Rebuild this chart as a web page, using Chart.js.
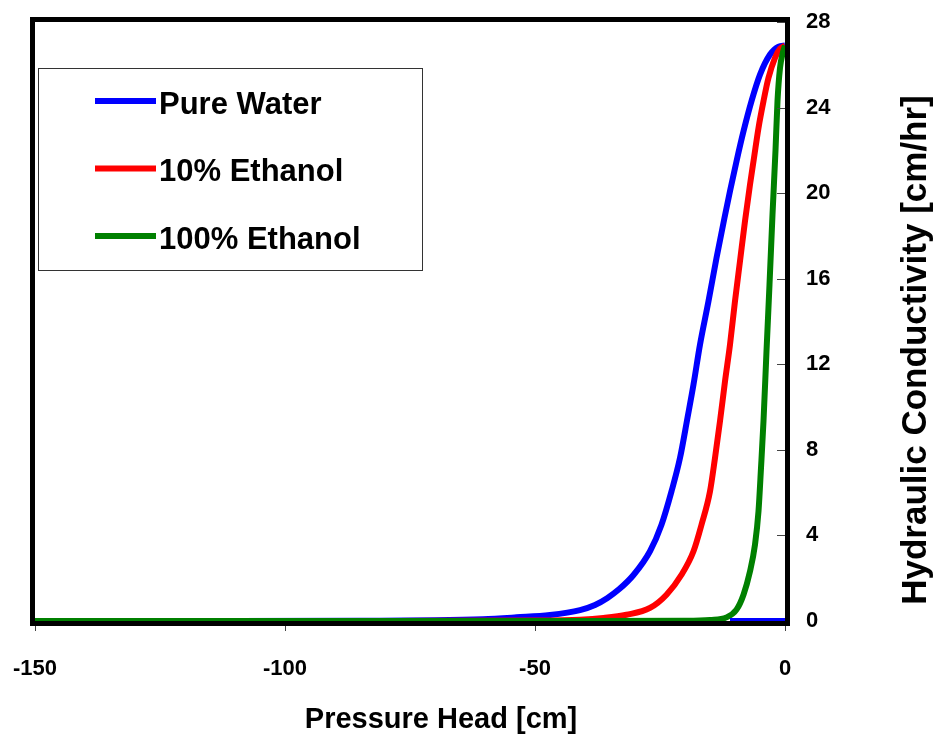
<!DOCTYPE html>
<html>
<head>
<meta charset="utf-8">
<script src="https://cdn.jsdelivr.net/npm/chart.js@4/dist/chart.umd.min.js"></script>
<style>
  html, body { margin: 0; padding: 0; background: #fff; }
  #wrap { width: 937px; height: 744px; }
</style>
</head>
<body>
<div id="wrap"><canvas id="c" width="937" height="744"></canvas></div>
<script>
// Hydraulic conductivity vs pressure head
const waterHead = [-150, -110, -85, -70, -60.4, -53.7, -47, -41, -38, -35.5, -33.2, -30.3, -27, -24.7, -22.7, -21, -19.5, -18.3, -17, -15.3, -13.7, -12.1, -11, -9.7, -8.3, -6.7, -5, -3, -1.3, 0];
const waterK = [0, 0.005, 0.015, 0.03, 0.08, 0.17, 0.28, 0.51, 0.75, 1.08, 1.48, 2.15, 3.26, 4.5, 6.06, 7.62, 9.5, 11.05, 12.92, 14.95, 16.97, 18.85, 20.09, 21.49, 22.89, 24.3, 25.54, 26.48, 26.85, 26.9];
// short blue stretch left on the zero line near the right edge
const waterBaseHead = [-11, 0];
const waterBaseK = [0, 0];

const eth10Head = [-150, -80, -50, -41, -36.3, -31.7, -27, -23.7, -20.7, -18.3, -16.7, -15, -14, -13, -12, -11, -10, -9, -8, -7, -6.2, -5.3, -4.3, -3.3, -2, -1, 0];
const eth10K = [0, 0.002, 0.02, 0.06, 0.14, 0.29, 0.61, 1.23, 2.16, 3.26, 4.5, 6.06, 7.62, 9.34, 11.2, 12.92, 14.95, 16.82, 18.69, 20.4, 21.65, 23.05, 24.3, 25.39, 26.32, 26.75, 26.9];

const eth100Head = [-150, -40, -20, -15, -11.7, -9.7, -8.3, -7, -6, -5.3, -4.8, -4.3, -3.7, -3.1, -2.5, -1.9, -1.5, -1, -0.5, 0];
const eth100K = [0, 0, 0.01, 0.05, 0.17, 0.53, 1.23, 2.32, 3.57, 5.13, 7.15, 9.34, 12.61, 15.72, 19.0, 22.0, 24.3, 25.85, 26.5, 26.9];

const xTicks = [-150, -100, -50, 0];
const yTicks = [0, 4, 8, 12, 16, 20, 24, 28];

const BLUE = '#0000FF';
const RED = '#FF0000';
const GREEN = '#008000';
const FONT = "'Liberation Sans', Arial, Helvetica, sans-serif";

function pts(xs, ys) { return xs.map((x, i) => ({ x, y: ys[i] })); }

function series(label, xs, ys, color, order) {
  return {
    label,
    data: pts(xs, ys),
    borderColor: color,
    backgroundColor: color,
    borderWidth: 6,
    showLine: true,
    pointRadius: 0,
    cubicInterpolationMode: 'monotone',
    order
  };
}

const legendItems = [
  { label: 'Pure Water', color: BLUE },
  { label: '10% Ethanol', color: RED },
  { label: '100% Ethanol', color: GREEN }
];

function noPad(s) {
  s.paddingLeft = 0; s.paddingRight = 0; s.paddingTop = 0; s.paddingBottom = 0;
}

const frame = {
  id: 'frame',
  beforeDraw(chart) {
    const c = chart.ctx;
    c.save();
    c.fillStyle = '#fff';
    c.fillRect(0, 0, chart.width, chart.height);
    c.restore();
  },
  afterDraw(chart) {
    const c = chart.ctx;
    const a = chart.chartArea;
    const ys = chart.scales.y;
    c.save();
    // inward ticks on the right axis
    c.strokeStyle = '#444';
    c.lineWidth = 1;
    yTicks.forEach(v => {
      const py = Math.round(ys.getPixelForValue(v)) + 0.5;
      c.beginPath();
      c.moveTo(a.right - 8, py);
      c.lineTo(a.right, py);
      c.stroke();
    });
    // heavy plot frame, drawn outside the area
    c.strokeStyle = '#000';
    c.lineWidth = 5;
    c.strokeRect(a.left - 2.5, a.top - 2.5, a.right - a.left + 5, a.bottom - a.top + 5);

    // legend box
    c.lineWidth = 1;
    c.strokeStyle = '#333';
    c.fillStyle = '#fff';
    c.fillRect(38.5, 68.5, 384, 202);
    c.strokeRect(38.5, 68.5, 384, 202);
    c.font = 'bold 31px ' + FONT;
    c.textBaseline = 'middle';
    c.textAlign = 'left';
    legendItems.forEach((it, i) => {
      const y = 101 + i * 67.5;
      c.strokeStyle = it.color;
      c.lineWidth = 6;
      c.beginPath();
      c.moveTo(95, y);
      c.lineTo(156, y);
      c.stroke();
      c.fillStyle = '#000';
      c.fillText(it.label, 159, y + 4);
    });

    // axis titles
    c.fillStyle = '#000';
    c.textAlign = 'center';
    c.textBaseline = 'alphabetic';
    c.font = 'bold 29px ' + FONT;
    c.fillText('Pressure Head [cm]', 441, 728);
    c.font = 'bold 35px ' + FONT;
    c.translate(926, 350);
    c.rotate(-Math.PI / 2);
    c.fillText('Hydraulic Conductivity [cm/hr]', 0, 0);
    c.restore();
  }
};

new Chart(document.getElementById('c'), {
  type: 'scatter',
  data: {
    datasets: [
      series('100% Ethanol', eth100Head, eth100K, GREEN, 1),
      series('10% Ethanol', eth10Head, eth10K, RED, 2),
      series('Pure Water', waterHead, waterK, BLUE, 3),
      series('', waterBaseHead, waterBaseK, BLUE, 0)
    ]
  },
  options: {
    responsive: false,
    animation: false,
    devicePixelRatio: 1,
    layout: { padding: { left: 35, top: 22, right: 0, bottom: 0 } },
    plugins: { legend: { display: false }, tooltip: { enabled: false } },
    scales: {
      x: {
        type: 'linear',
        min: -150, max: 0,
        afterBuildTicks: s => { s.ticks = xTicks.map(v => ({ value: v })); },
        afterFit: s => { s.height = 123; noPad(s); },
        grid: { drawOnChartArea: false, drawTicks: true, tickLength: 10, color: '#444' },
        border: { display: false },
        ticks: { color: '#000', padding: 25, maxRotation: 0, font: { family: FONT, size: 22, weight: 'bold' } }
      },
      y: {
        type: 'linear',
        position: 'right',
        min: 0, max: 28,
        afterBuildTicks: s => { s.ticks = yTicks.map(v => ({ value: v })); },
        afterFit: s => { s.width = 152; noPad(s); },
        grid: { drawOnChartArea: false, drawTicks: false },
        border: { display: false },
        ticks: { color: '#000', padding: 21, font: { family: FONT, size: 22, weight: 'bold' } }
      }
    }
  },
  plugins: [frame]
});
</script>
</body>
</html>
